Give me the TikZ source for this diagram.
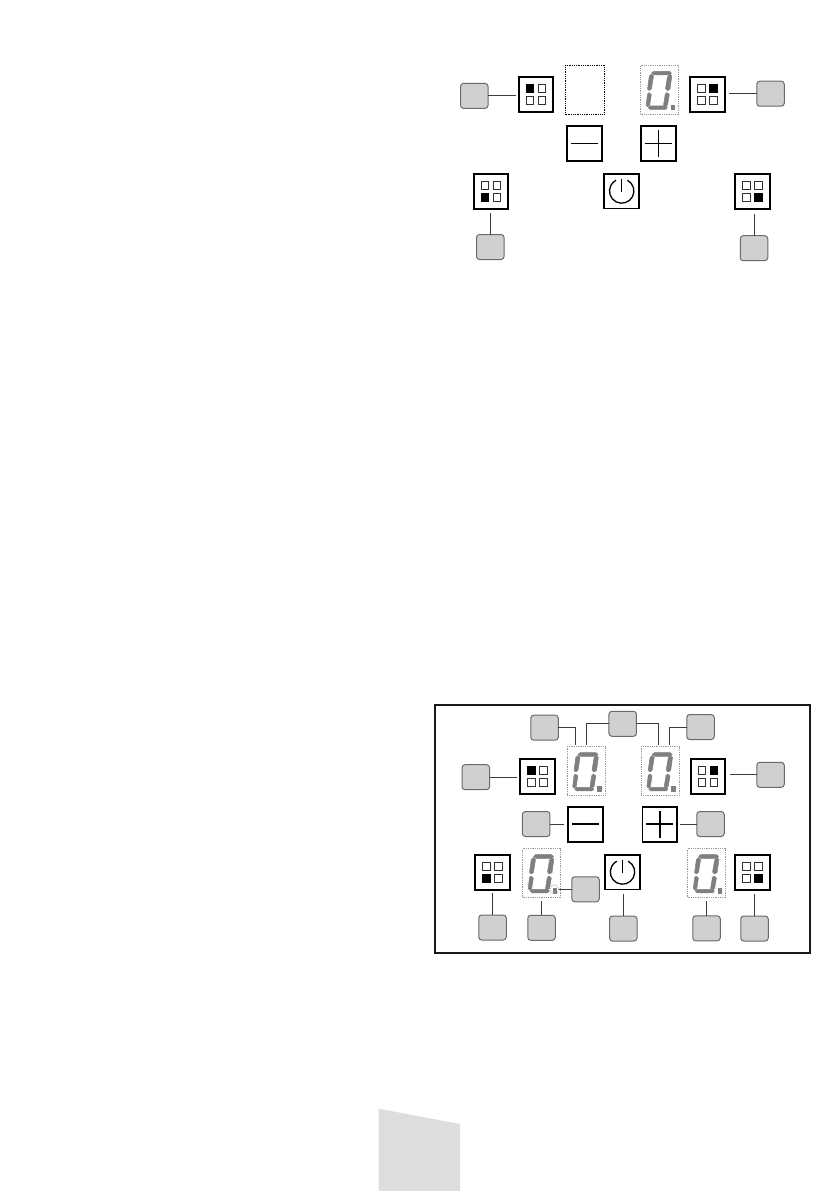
\documentclass[tikz,border=0pt]{standalone}
\usetikzlibrary{calc}
\definecolor{tabgray}{HTML}{DDDDDD}
\definecolor{capfill}{HTML}{D0D0D0}
\definecolor{capline}{HTML}{6A6A6A}
\definecolor{seggray}{HTML}{7F7F7F}
\definecolor{dotgray}{HTML}{9A9A9A}
\definecolor{wireg}{HTML}{3C3C3C}
\tikzset{
  capbox/.style={draw=capline,fill=capfill,line width=1pt,rounded corners=3pt,minimum width=27.5pt,minimum height=25pt,inner sep=0pt,outer sep=0pt},
  keybox/.style={draw=black,fill=white,line width=2pt,minimum size=34.8pt,inner sep=0pt,outer sep=0pt},
  slimbox/.style={draw=black,fill=white,line width=1.8pt,minimum size=34.8pt,inner sep=0pt,outer sep=0pt},
  digitbox/.style={draw=dotgray,line width=0.8pt,densely dotted,minimum width=38pt,minimum height=49pt,inner sep=0pt,outer sep=0pt},
  emptybox/.style={draw=black,line width=0.8pt,densely dotted,minimum width=38.5pt,minimum height=49pt,inner sep=0pt,outer sep=0pt},
  wire/.style={draw=wireg,line width=0.9pt},
  glyph/.style={draw=black,line width=1.5pt},
  minisq/.style={draw=black!80,line width=1pt,fill=white},
  framebox/.style={draw=black!90,line width=2pt,minimum width=375pt,minimum height=247.5pt,inner sep=0pt,outer sep=0pt},
  ringmark/.style={circle,draw=dotgray,line width=0.8pt,densely dotted,minimum size=9pt,inner sep=0pt,outer sep=0pt},
  segment/.style={fill=seggray,draw=seggray,line width=0.5pt,line join=round},
}
% name, x, y, column of black square (-1/1), row (-1/1)
\newcommand{\keypad}[5]{%
  \node[keybox] (#1) at (#2,#3) {};
  \foreach \mx in {-1,1} \foreach \my in {-1,1}
    \draw[minisq] ($(#1.center)+(\mx*6,\my*6)$) ++(-3.9,-3.9) rectangle ++(7.8,7.8);
  \fill[black] ($(#1.center)+(#4*6,#5*6)$) ++(-4.4,-4.4) rectangle ++(8.8,8.8);
}
\newcommand{\minuskey}[3]{%
  \node[slimbox] (#1) at (#2,#3) {};
  \draw[glyph] ($(#1.center)+(-13.5,0)$) -- ($(#1.center)+(13.5,0)$);
}
\newcommand{\pluskey}[3]{%
  \node[slimbox] (#1) at (#2,#3) {};
  \draw[glyph] ($(#1.center)+(-13.5,0)$) -- ($(#1.center)+(13.5,0)$);
  \draw[glyph] ($(#1.center)+(0,-13.5)$) -- ($(#1.center)+(0,13.5)$);
}
\newcommand{\powerkey}[3]{%
  \node[slimbox] (#1) at (#2,#3) {};
  \draw[glyph,line width=1.3pt] ($(#1.center)+(0,-12.5)$) -- ($(#1.center)+(0,1)$);
  \begin{scope}[shift={(#1.center)},x=1pt,y=1pt]
    \draw[glyph,line width=1.3pt] (62:12.2) arc[start angle=62,end angle=-242,radius=12.2];
  \end{scope}
}
% name, centre x, centre y
\newcommand{\digit}[3]{%
  \node[digitbox] (#1) at (#2,#3) {};
  \begin{scope}[shift={(#1.north west)}]
    \path[segment] (11,8) -- (13,6.2) -- (29,6.2) -- (31,8) -- (29,9.8) -- (13.5,9.8) -- cycle;
    \path[segment] (11,9) -- (13,11) -- (11,23.5) -- (9,25.5) -- (7,24) -- (8.8,11) -- cycle;
    \path[segment] (29.5,9) -- (31.3,11) -- (29.5,24) -- (27,25.5) -- (25,23.5) -- (27,11.5) -- cycle;
    \path[segment] (8.5,27.5) -- (10.8,29.5) -- (9.2,40) -- (7,41.5) -- (5.7,40) -- (7,29) -- cycle;
    \path[segment] (26.5,27.5) -- (28.8,29.5) -- (27,40) -- (24.7,41.5) -- (23,40) -- (24.8,29) -- cycle;
    \path[segment] (7.5,42.5) -- (9.5,40.8) -- (25,40.8) -- (26.8,42.5) -- (25,44.3) -- (9.5,44.3) -- cycle;
    \path[segment] (30.3,40) rectangle (34,44.3);
  \end{scope}
}
\begin{document}
\begin{tikzpicture}[x=1pt,y=-1pt]
\useasboundingbox (0,0) rectangle (839,1191);
\fill[white] (0,0) rectangle (839,1191);

% page tab
\fill[tabgray] (378.7,1108.7) -- (460,1124) -- (460,1191) -- (378.7,1191) -- cycle;

% ---------- upper panel ----------
\keypad{ka}{536}{94.5}{-1}{-1}
\keypad{kb}{707.2}{94.5}{1}{-1}
\keypad{kc}{491}{191.7}{-1}{1}
\keypad{kd}{752.3}{191.7}{1}{1}
\node[emptybox] (ea) at (585,89.6) {};
\digit{da}{659.5}{89.6}
\minuskey{ma}{584.3}{143.3}
\pluskey{pa}{658.7}{143.3}
\powerkey{wa}{621.7}{191}
\node[capbox] (ca) at (474.3,95.9) {};
\node[capbox] (cb) at (770.5,93.7) {};
\node[capbox] (cc) at (490.3,247) {};
\node[capbox] (cd) at (754,248.2) {};
\draw[wire,shorten >=3pt] (ca.east) -- (ca.east -| ka.west);
\draw[wire,shorten >=4.5pt] (cb.west) -- (cb.west -| kb.east);
\draw[wire,shorten >=3.5pt] (cc.north) -- (cc.north |- kc.south);
\draw[wire,shorten >=4.5pt] (cd.north) -- (cd.north |- kd.south);

% ---------- lower panel ----------
\node[framebox] (fr) at (622.5,828.9) {};
\keypad{ke}{537.3}{776.2}{-1}{-1}
\keypad{kf}{708}{776.2}{1}{-1}
\keypad{kg}{492.6}{872.5}{-1}{1}
\keypad{kh}{752.6}{872.5}{1}{1}
\digit{db}{586}{771}
\digit{dc}{660.2}{771}
\digit{dd}{541.5}{873}
\digit{de}{706.6}{873}
\minuskey{mb}{585.3}{824.2}
\pluskey{pb}{659.8}{824.2}
\powerkey{wb}{622.5}{872}
\node[capbox] (ce) at (544.5,727.7) {};
\node[capbox] (cf) at (622.7,723.8) {};
\node[capbox] (cg) at (700.5,727) {};
\node[capbox] (ch) at (475.8,777.2) {};
\node[capbox] (ci) at (770.5,774.8) {};
\node[capbox] (cj) at (536.2,824) {};
\node[capbox] (ck) at (710.5,824) {};
\node[capbox] (cl) at (585.5,889.3) {};
\node[capbox] (cm) at (492.5,927.5) {};
\node[capbox] (cn) at (541.5,927.8) {};
\node[capbox] (co) at (623.3,928.5) {};
\node[capbox] (cp) at (706.5,928.3) {};
\node[capbox] (cq) at (754.5,928.5) {};
\node[ringmark] (rg) at (554.3,889.3) {};

\coordinate (ta) at (575.7,744.5);
\coordinate (tb) at (586.3,744.5);
\coordinate (tc) at (658.7,744.5);
\coordinate (td) at (669.3,744.5);
\draw[wire] (ce.east) -| (ta);
\draw[wire] (cf.west) -| (tb);
\draw[wire] (cf.east) -| (tc);
\draw[wire] (cg.west) -| (td);
\draw[wire,shorten >=3pt] (ch.east) -- (ch.east -| ke.west);
\draw[wire,shorten >=4.5pt] (ci.west) -- (ci.west -| kf.east);
\draw[wire,shorten >=3.5pt] (cj.east) -- (cj.east -| mb.west);
\draw[wire,shorten >=2.5pt] (ck.west) -- (ck.west -| pb.east);
\draw[wire] (cl.west) -- (rg.east);
\draw[wire,shorten >=3.5pt] (cm.north) -- (cm.north |- kg.south);
\draw[wire,shorten >=3.5pt] (cn.north) -- (cn.north |- dd.south);
\draw[wire,shorten >=4.5pt] (co.north) -- (co.north |- wb.south);
\draw[wire,shorten >=3.5pt] (cp.north) -- (cp.north |- de.south);
\draw[wire,shorten >=4.5pt] (cq.north) -- (cq.north |- kh.south);
\end{tikzpicture}
\end{document}
